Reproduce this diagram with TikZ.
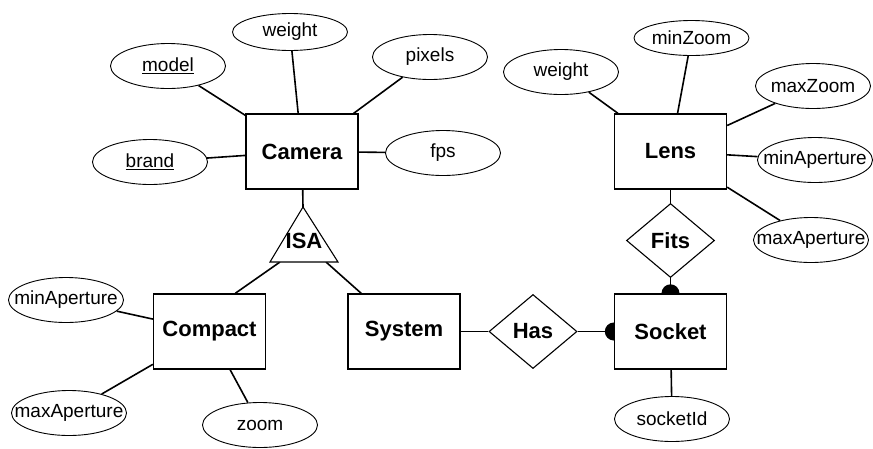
\documentclass[tikz,border=0pt]{standalone}
\usepackage{fontspec}
\setmainfont{Liberation Sans}
\usetikzlibrary{shapes.geometric,arrows.meta,backgrounds}

\newcommand{\attrtext}[1]{\makebox[0pt]{#1}}

\tikzset{
	entity/.style={draw, line width=1.3pt, fill=white, minimum width=112pt, minimum height=75pt,
		font=\fontsize{22}{24}\selectfont\bfseries},
	relation/.style={draw, diamond, line width=1.1pt, fill=white, minimum width=88pt, minimum height=74pt,
		inner sep=1pt, font=\fontsize{22}{24}\selectfont\bfseries},
	attr/.style={draw, ellipse, line width=0.9pt, fill=white, minimum width=115pt, minimum height=45pt,
		inner sep=0pt, font=\fontsize{19}{21}\selectfont},
	link/.style={line width=1.6pt},
	oneside/.style={link, -{Circle[length=18pt]}, shorten >=-9pt}
}

\begin{document}
\begin{tikzpicture}[x=1pt, y=-1pt]
\useasboundingbox (0,0) rectangle (873,448);

\node[entity] (Camera) at (302,151.5) {Camera};
\node[entity] (Lens) at (670.5,151.5) {Lens};
\node[entity] (Compact) at (209.5,331.5) {Compact};
\node[entity] (System) at (404,331.5) {System};
\node[entity] (Socket) at (670.5,331.5) {Socket};
\node[relation] (Has) at (533,331.5) {Has};
\node[relation] (Fits) at (670.5,240.5) {Fits};

% ISA triangle
\coordinate (isaTop) at (303,207);
\coordinate (isaLeft) at (270,262);
\coordinate (isaRight) at (338,262);
\coordinate (isaBaseL) at (280,262);
\coordinate (isaBaseR) at (326,262);
\draw[line width=1.1pt, fill=white] (isaTop) -- (isaLeft) -- (isaRight) -- cycle;
\node[font=\fontsize{22}{24}\selectfont\bfseries] (ISA) at (304,241) {ISA};

% attributes
\foreach \name/\x/\y/\txt/\owner in {
		camModel/168/66/\underline{model}/Camera,
		camPixels/430/57/pixels/Camera,
		camBrand/150/162/\underline{brand}/Camera,
		camFps/443/153/fps/Camera,
		lensWeight/561/72/weight/Lens,
		lensMaxZoom/813/86/maxZoom/Lens,
		lensMinAp/815/160/minAperture/Lens,
		lensMaxAp/811/240/maxAperture/Lens,
		cmpMinAp/66/300/minAperture/Compact,
		cmpMaxAp/69/413/maxAperture/Compact,
		cmpZoom/260/425/zoom/Compact,
		sockId/672/419/socketId/Socket}
{
	\node[attr] (\name) at (\x,\y) {\attrtext{\txt}};
	\begin{scope}[on background layer]
		\draw[link] (\name) -- (\owner);
	\end{scope}
}
\node[attr, minimum height=37pt] (camWeight) at (290,32) {\attrtext{weight}};
\node[attr, minimum height=35pt] (lensMinZoom) at (691.5,38) {\attrtext{minZoom}};

\begin{scope}[on background layer]
	\draw[link] (camWeight) -- (Camera);
	\draw[link] (lensMinZoom) -- (Lens);
	\draw[link] (Camera) -- (isaTop);
	\draw[link] (isaBaseL) -- (Compact.56);
	\draw[link] (isaBaseR) -- (System);
	\draw[link] (System) -- (Has);
	\draw[oneside] (Has) -- (Socket);
	\draw[link] (Lens) -- (Fits);
	\draw[oneside] (Fits) -- (Socket);
\end{scope}
\end{tikzpicture}
\end{document}
